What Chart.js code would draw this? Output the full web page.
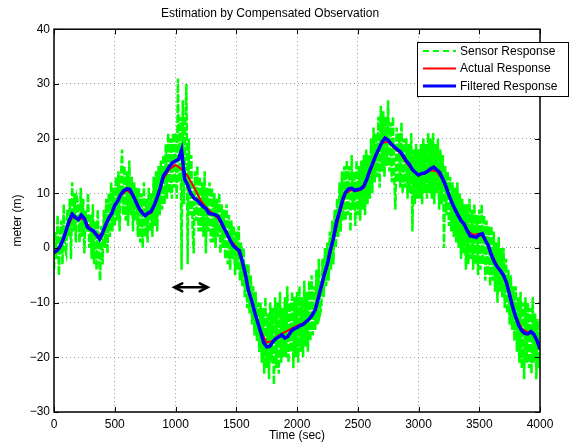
<!DOCTYPE html>
<html>
<head>
<meta charset="utf-8">
<script src="https://cdn.jsdelivr.net/npm/chart.js@4.4.0/dist/chart.umd.min.js"></script>
<style>
    html, body { margin: 0; padding: 0; background: #fff; }
    #wrap { width: 571px; height: 447px; }
</style>
</head>
<body>
<div id="wrap"><canvas id="myChart" width="571" height="447"></canvas></div>
<script>
// sample spacing (sec) of each series
const sensorStep = 10;
const actualStep = 50;
const filteredStep = 25;

// Sensor Response, every 10 s from 0 to 4000 (one row = 100 s)
const sensorResponse = [
    -4, 3, -2, 6, -5, 2, 5, -3, 8, 0,
    -1, 7, 2, 9, -2, 12, 3, 10, 1, 9,
    8, 1, 11, 2, 9, -1, 7, 3, 10, 0,
    6, -2, 8, -3, 5, -4, 7, -1, -6, 4,
    -3, 7, 0, 9, -1, 10, 2, 12, 3, 11,
    4, 13, 5, 14, 3, 12, 18, 6, 15, 5,
    14, 4, 16, 6, 13, 3, 12, 5, 11, 2,
    11, 1, 10, 0, 12, 2, 9, 1, 11, 3,
    10, 2, 13, 4, 14, 3, 15, 6, 16, 7,
    17, 8, 19, 9, 21, 10, 20, 9, 21, 11,
    21, 9, 31, 12, 24, -4, 27, 8, 22, 30,
    -3, 20, 6, 17, 4, -1, 14, 5, 15, 3,
    13, 3, 12, 2, 14, -1, 11, 3, 12, 1,
    11, 1, 10, 0, 9, 2, 10, -1, 8, 0,
    7, -2, 8, -3, 6, -4, 5, -2, 4, -5,
    3, -4, 4, -6, 1, -7, 0, -9, -3, -11,
    -3, -12, -5, -14, -7, -16, -8, -17, -10, -19,
    -10, -21, -11, -23, -9, -22, -12, -24, -10, -21,
    -11, -25, -9, -22, -10, -23, -8, -21, -11, -20,
    -9, -20, -7, -21, -10, -19, -8, -22, -9, -20,
    -8, -21, -7, -19, -9, -20, -6, -18, -8, -19,
    -6, -17, -5, -16, -7, -15, -4, -14, -2, -12,
    -11, -2, -9, 0, -7, 1, -6, 3, -4, 5,
    -3, 7, 0, 9, 2, 12, 3, 14, 5, 15,
    5, 16, 6, 15, 3, 17, 7, 14, 4, 16,
    6, 15, 5, 16, 7, 17, 6, 18, 8, 17,
    9, 20, 10, 22, 12, 21, 13, 24, 11, 26,
    14, 25, 13, 24, 15, 27, 14, 23, 12, 24,
    13, 7, 22, 12, 21, 11, 23, 10, 20, 11,
    20, 9, 19, 10, 21, 3, 18, 8, 19, 9,
    18, 9, 19, 8, 20, 10, 19, 9, 21, 10,
    20, 9, 21, 8, 19, 10, 20, 7, 18, 8,
    17, 0, 15, 6, 14, 4, 13, 3, 12, 2,
    11, 1, 12, 0, 10, -2, 9, -1, 8, -4,
    8, -3, 9, -2, 7, -4, 8, -3, 6, -5,
    7, -4, 8, -3, 6, -6, 5, -5, 4, -7,
    4, -6, 3, -8, 1, -10, 2, -8, 0, -9,
    0, -11, -2, -12, -4, -14, -5, -15, -7, -17,
    -7, -19, -9, -21, -8, -22, -10, -24, -9, -21,
    -10, -22, -11, -23, -9, -21, -12, -24, -13, -22,
    -19
];

// Actual Response, every 50 s
const actualResponse = [
    -1, 0, 3.2, 5.6, 5.4, 5.2, 3.5, 2.2, 2.6, 5.2,
    7.6, 9.6, 10.6, 9.6, 7.4, 6.0, 6.4, 9.0, 12.6, 14.4,
    15.2, 14.4, 13.2, 11.2, 9.0, 7.4, 6.4, 5.4, 3.4, 1.4,
    0.2, -2.4, -7.4, -11.8, -15.2, -17.3, -17.0, -16.0, -15.4, -14.8,
    -14.2, -13.8, -13.0, -11.4, -7.2, -3.2, 1.4, 6.2, 10.0, 10.6,
    10.4, 11.0, 13.8, 16.8, 19.2, 19.4, 18.3, 17.3, 15.6, 14.2,
    13.4, 13.6, 14.2, 14.0, 12.4, 9.6, 7.0, 5.0, 3.2, 2.4,
    2.6, 1.6, -1.0, -3.4, -5.0, -8.4, -12.4, -14.8, -15.4, -15.8,
    -18.6
];

// Filtered Response, every 25 s
const filteredResponse = [
    -0.8, -0.5, 0.3, 1.5, 3.2, 5.0, 6.2, 5.6, 5.2, 6.0,
    5.4, 3.8, 3.4, 3.1, 2.4, 1.6, 2.8, 4.2, 5.4, 6.3,
    7.8, 8.6, 9.8, 10.5, 10.8, 10.7, 9.6, 8.4, 7.2, 6.4,
    5.9, 6.4, 6.7, 7.8, 9.3, 11.0, 13.2, 14.0, 14.9, 15.6,
    15.9, 16.2, 17.9, 12.6, 11.5, 10.0, 9.2, 8.8, 8.2, 7.6,
    7.2, 6.3, 6.2, 6.1, 5.8, 4.8, 3.6, 2.6, 1.4, 0.4,
    -0.1, -0.5, -2.5, -4.8, -7.8, -9.5, -11.6, -13.5, -15.3, -17.3,
    -18.1, -18.0, -17.2, -16.6, -16.3, -15.9, -16.5, -16.2, -15.3, -14.8,
    -14.6, -14.2, -14.0, -13.5, -13.0, -12.3, -11.3, -9.2, -7.0, -4.8,
    -3.0, -0.3, 1.8, 4.8, 6.6, 8.8, 10.2, 10.8, 10.9, 10.5,
    10.7, 10.8, 11.3, 12.6, 14.2, 15.6, 17.0, 18.2, 19.4, 20.1,
    19.7, 19.0, 18.5, 18.0, 17.6, 16.8, 15.9, 15.3, 14.3, 13.8,
    13.3, 13.6, 13.7, 14.0, 14.5, 14.8, 14.3, 13.8, 12.6, 11.3,
    9.7, 8.3, 7.1, 6.0, 5.0, 4.4, 3.2, 2.2, 2.1, 1.9,
    2.4, 2.6, 1.4, 0.4, -1.3, -2.6, -3.5, -4.2, -5.0, -6.4,
    -8.6, -10.8, -12.6, -14.2, -15.1, -15.6, -15.7, -15.3, -15.8, -16.9,
    -18.5
];

const xTicks = [0, 500, 1000, 1500, 2000, 2500, 3000, 3500, 4000];
const yTicks = [-30, -20, -10, 0, 10, 20, 30, 40];

// double arrow under the peak (sec, sec, meter)
const arrowFrom = 990;
const arrowTo = 1265;
const arrowLevel = -7.2;

const seriesNames = ['Sensor Response', 'Actual Response', 'Filtered Response'];
const seriesColors = ['#00ff00', '#ff0000', '#0000ff'];

const FONT = '"Liberation Sans", Arial, Helvetica, sans-serif';

function toPoints(values, step) {
    return values.map((v, i) => ({ x: i * step, y: v }));
}

function minusSign(v) {
    return String(v).replace('-', '\u2212');
}

const matlabFrame = {
    id: 'matlabFrame',
    afterDatasetsDraw(chart) {
        const { ctx, chartArea: a, scales: { x, y } } = chart;
        ctx.save();

        // arrow
        const ax1 = x.getPixelForValue(arrowFrom);
        const ax2 = x.getPixelForValue(arrowTo);
        const ay = y.getPixelForValue(arrowLevel);
        ctx.strokeStyle = '#000';
        ctx.lineWidth = 2.5;
        ctx.lineCap = 'round';
        ctx.beginPath();
        ctx.moveTo(ax1, ay);
        ctx.lineTo(ax2, ay);
        ctx.moveTo(ax1 + 8, ay - 4);
        ctx.lineTo(ax1, ay);
        ctx.lineTo(ax1 + 8, ay + 4);
        ctx.moveTo(ax2 - 8, ay - 4);
        ctx.lineTo(ax2, ay);
        ctx.lineTo(ax2 - 8, ay + 4);
        ctx.stroke();

        // inward tick marks
        ctx.lineCap = 'butt';
        ctx.lineWidth = 1;
        ctx.beginPath();
        xTicks.forEach(t => {
            const px = Math.round(x.getPixelForValue(t)) + 0.5;
            ctx.moveTo(px, a.bottom); ctx.lineTo(px, a.bottom - 5);
            ctx.moveTo(px, a.top); ctx.lineTo(px, a.top + 5);
        });
        yTicks.forEach(t => {
            const py = Math.round(y.getPixelForValue(t)) + 0.5;
            ctx.moveTo(a.left, py); ctx.lineTo(a.left + 5, py);
            ctx.moveTo(a.right, py); ctx.lineTo(a.right - 5, py);
        });
        ctx.stroke();

        // box
        ctx.lineWidth = 1.5;
        ctx.strokeRect(a.left, a.top, a.right - a.left, a.bottom - a.top);
        ctx.restore();
    },
    afterDraw(chart) {
        const ctx = chart.ctx;
        ctx.save();
        ctx.fillStyle = '#fff';
        ctx.fillRect(417, 42, 151, 54);
        ctx.strokeStyle = '#000';
        ctx.lineWidth = 1;
        ctx.strokeRect(417.5, 42.5, 151, 54);
        const rows = [51, 68.5, 86];
        ctx.font = '12px ' + FONT;
        ctx.textBaseline = 'middle';
        seriesNames.forEach((name, i) => {
            ctx.strokeStyle = seriesColors[i];
            ctx.lineWidth = i === 2 ? 3 : 2;
            ctx.setLineDash(i === 0 ? [6, 4] : []);
            ctx.beginPath();
            ctx.moveTo(423, rows[i]);
            ctx.lineTo(456, rows[i]);
            ctx.stroke();
            ctx.setLineDash([]);
            ctx.fillStyle = '#000';
            ctx.fillText(name, 460, rows[i] + 0.5);
        });
        ctx.restore();
    }
};

const ctx = document.getElementById('myChart').getContext('2d');
const chart = new Chart(ctx, {
    type: 'line',
    data: {
        datasets: [
            {
                label: seriesNames[0],
                data: toPoints(sensorResponse, sensorStep),
                borderColor: seriesColors[0],
                borderWidth: 2.5,
                borderDash: [8, 2],
                pointRadius: 0,
                tension: 0,
                order: 3
            },
            {
                label: seriesNames[1],
                data: toPoints(actualResponse, actualStep),
                borderColor: seriesColors[1],
                borderWidth: 2,
                pointRadius: 0,
                tension: 0,
                order: 2
            },
            {
                label: seriesNames[2],
                data: toPoints(filteredResponse, filteredStep),
                borderColor: seriesColors[2],
                borderWidth: 3.5,
                pointRadius: 0,
                tension: 0,
                order: 1
            }
        ]
    },
    options: {
        responsive: false,
        animation: false,
        devicePixelRatio: 1,
        layout: { padding: { top: 2.8, right: 31, left: 0, bottom: 0 }, autoPadding: false },
        plugins: {
            legend: { display: false },
            tooltip: { enabled: false },
            title: {
                display: true,
                text: 'Estimation by Compensated Observation',
                color: '#000',
                font: { family: FONT, size: 12, weight: 'normal' },
                padding: { top: 4, bottom: 8 }
            }
        },
        scales: {
            x: {
                type: 'linear',
                min: 0,
                max: 4000,
                afterBuildTicks: s => { s.ticks = xTicks.map(v => ({ value: v })); },
                afterFit: s => { s.height = 35; },
                ticks: {
                    color: '#000',
                    font: { family: FONT, size: 12 },
                    padding: 5,
                    maxRotation: 0,
                    callback: v => minusSign(v)
                },
                grid: { color: '#999', drawTicks: false, lineWidth: 1 },
                border: { display: false, dash: [1, 3] },
                title: {
                    display: true,
                    text: 'Time (sec)',
                    color: '#000',
                    font: { family: FONT, size: 12 },
                    padding: { top: 0, bottom: 4 }
                }
            },
            y: {
                type: 'linear',
                min: -30,
                max: 40,
                afterBuildTicks: s => { s.ticks = yTicks.map(v => ({ value: v })); },
                afterFit: s => { s.width = 54; },
                ticks: {
                    color: '#000',
                    font: { family: FONT, size: 12 },
                    padding: 4,
                    callback: v => minusSign(v)
                },
                grid: { color: '#999', drawTicks: false, lineWidth: 1 },
                border: { display: false, dash: [1, 3] },
                title: {
                    display: true,
                    text: 'meter (m)',
                    color: '#000',
                    font: { family: FONT, size: 12 },
                    padding: { top: 10, bottom: 0 }
                }
            }
        }
    },
    plugins: [matlabFrame]
});
</script>
</body>
</html>
